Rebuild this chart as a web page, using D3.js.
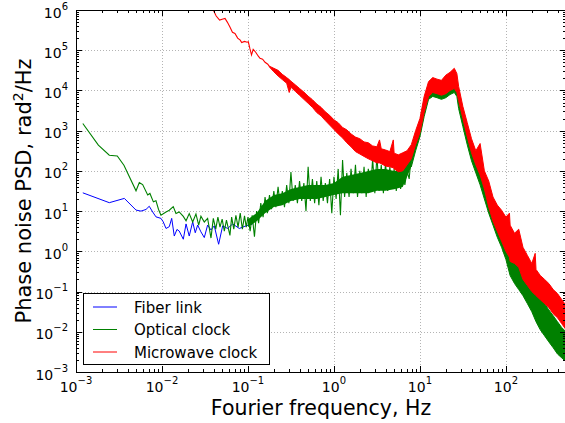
<!DOCTYPE html>
<html><head><meta charset="utf-8">
<script src="https://cdn.jsdelivr.net/npm/d3@7"></script>
<style>body{margin:0;background:#fff}svg{display:block}text{font-family:"DejaVu Sans",sans-serif}</style>
</head><body><svg id="c" width="565" height="423"></svg>
<script>
// ---------- data ----------
const seriesNames = ["Fiber link", "Optical clock", "Microwave clock"];
const seriesColors = ["#0000ff", "#008000", "#ff0000"];

// Fiber link
const fiberFreq = [0.0012,0.00244,0.00365,0.00499,0.0057,0.00652,0.00711,0.0078,0.00851,0.00973,0.01035,0.01114,0.01216,0.01297,0.0139,0.01493,0.01585,0.0177,0.01905,0.02075,0.02275,0.02438,0.026,0.02838,0.03105,0.03396,0.03715,0.04055,0.0456,0.0508,0.058,0.0664,0.0793,0.0948,0.1135];
const fiberPsd  = [28.5,16.2,20.7,10.6,10,11,13.2,9.5,7.2,6.6,5.4,3.7,4.1,6.6,2.4,3.5,3.2,2.0,4.8,2.4,5.4,2.9,4.5,3.05,2.2,4.5,3.4,4.3,1.5,4.3,3.7,4.8,3.7,4.3,4.8];

// Optical clock: resolved trace up to ~8 Hz
const opticalFreq = [0.0012,0.00182,0.00244,0.00302,0.00361,0.00499,0.00545,0.00596,0.00682,0.00724,0.00794,0.00851,0.00912,0.00973,0.01114,0.01216,0.01352,0.01455,0.01585,0.0177,0.01905,0.02075,0.02275,0.02483,0.02673,0.02838,0.03105,0.03396,0.03715,0.03954,0.0422,0.0447,0.0473,0.0501,0.0531,0.0562,0.0617,0.0646,0.0684,0.0724,0.0767,0.0813,0.0861,0.0912,0.0955,
  0.1,0.106,0.112,0.119,0.126,0.133,0.141,0.15,0.158,0.168,0.178,0.188,0.2,0.211,0.224,0.237,0.251,0.266,0.282,0.299,0.316,0.335,0.355,0.376,0.398,0.422,0.447,0.473,0.501,0.531,0.562,0.596,0.631,0.668,0.708,0.75,0.794,0.841,0.891,0.944,
  1.0,1.06,1.12,1.19,1.26,1.33,1.41,1.5,1.58,1.68,1.78,1.88,2.0,2.11,2.24,2.37,2.51,2.66,2.82,2.99,3.16,3.35,3.55,3.76,3.98,4.22,4.47,4.73,5.01,5.31,5.62,5.96,6.31,6.68,7.08,7.5,7.94];
const opticalPsd = [1510,437,245,234,138,32,51,45.7,25.1,27.5,17,18.2,11,7.94,9.55,10.5,12.9,8.7,9.55,7.4,5.75,8.7,5.37,8.5,4.47,7.5,5.37,6.6,2.14,6.6,3.55,7.1,4.0,6.3,3.16,6.0,2.5,7.1,3.55,7.9,4.0,8.9,3.55,7.6,4.0,
  7.1,3.16,7.9,2.3,10,5.0,15.8,7.1,22.4,8.9,25,11.2,31.6,12.6,40,14,31.6,12.6,44.7,15.8,93,17.8,44.7,15.8,56,17.8,50,10,126,17.8,63,15.8,56,14,71,17.8,50,15.8,63,8.9,
  71,20,112,7.9,186,22.4,89,22.4,112,28,141,22.4,100,28,126,22.4,112,31.6,200,28,251,31.6,141,28,158,31.6,126,35.5,112,31.6,100,35.5,100,44.7,100,63,251];
// Optical clock: dense core of the trace, 0.1–8 Hz (lower / upper envelope)
const opticalCoreFreq = [0.1,0.126,0.158,0.2,0.251,0.316,0.398,0.501,0.631,0.794,1,1.26,1.58,2.0,2.51,3.16,3.98,5.01,6.31,7.94];
const opticalCoreLo = [4.0,5.6,8.9,12.6,14,17.8,20,20,20,22.4,25,28,28,28,28,32,32,35,40,126];
const opticalCoreHi = [6.3,8.9,17.8,25,28,35.5,40,44.7,44.7,44.7,50,71,79,89,100,112,112,100,100,282];
// Optical clock: dense band above ~8 Hz
const opticalBandFreq = [7.94,8.91,10,11.2,12.6,14.1,15.8,17.8,20,22.4,25.1,26.9,28.2,31.6,35.5,39.8,44.7,50.1,56.2,63.1,70.8,79.4,89.1,100,112,126,141,158,178,200,224,251,282,316,355,398,447,501];
const opticalBandHi = [316,794,1585,5600,12600,12600,11200,11200,12600,15800,17800,15800,7900,2510,1000,398,200,100,50,25,10,6.3,3.55,2.0,1.26,0.79,0.5,0.316,0.2,0.141,0.1,0.071,0.05,0.035,0.025,0.0178,0.0126,0.01];
const opticalBandLo = [126,316,708,2240,6000,7100,6600,6000,6600,7900,8900,7100,3550,1260,447,178,89,45,20,8.9,4.47,2.24,1.26,0.63,0.25,0.158,0.112,0.079,0.05,0.0316,0.0178,0.0112,0.0079,0.0056,0.004,0.0028,0.00224,0.00178];

// Microwave clock: resolved trace at low frequency (clipped above 1e6)
const microFreq = [0.002,0.005,0.01,0.02,0.03,0.0395,0.0427,0.0468,0.0501,0.0541,0.0575,0.0617,0.066,0.0706,0.0759,0.0813,0.0845,0.0912,0.0977,0.101,0.105,0.11,0.115,0.123,0.132,0.138,0.148,0.158,0.17,0.178];
const microPsd  = [8e6,5e6,3e6,2e6,1.4e6,1.0e6,7.1e5,5.6e5,5.9e5,6.2e5,5.0e5,3.8e5,2.8e5,2.6e5,2.0e5,1.78e5,1.55e5,1.66e5,1.58e5,1.62e5,1.12e5,7.6e4,1.05e5,8.9e4,7.1e4,6.3e4,6.0e4,5.0e4,4.5e4,3.9e4];
// Microwave clock: dense band
const microBandFreq = [0.178,0.2,0.224,0.251,0.282,0.302,0.316,0.355,0.398,0.447,0.501,0.562,0.631,0.708,0.794,0.891,1.0,1.12,1.26,1.41,1.58,1.78,2.0,2.24,2.51,2.82,3.16,3.39,3.55,3.98,4.47,4.9,5.01,5.62,6.31,7.08,7.94,8.91,10,11.2,12.6,14.1,15.8,17.8,20,22.4,25.1,26.9,28.2,31.6,35.5,39.8,44.7,50.1,56.2,63.1,70.8,79.4,89.1,100,110,112,126,141,158,178,200,219,224,251,282,316,355,398,447,501];
const microBandHi = [4.0e4,3.55e4,3.16e4,2.51e4,2.09e4,1.86e4,1.70e4,1.38e4,1.12e4,9.1e3,7.2e3,5.9e3,4.6e3,3.8e3,2.95e3,2.4e3,1.86e3,1.58e3,1.2e3,1.05e3,832,692,631,525,501,417,398,589,355,331,302,589,275,251,282,316,447,1000,2000,7100,1.66e4,2.09e4,1.91e4,1.78e4,2.4e4,2.82e4,3.55e4,2.63e4,1.26e4,3.98e3,1.58e3,631,316,479,100,56,22.4,14.1,10.5,7.1,8.9,4.47,2.82,3.55,1.26,0.79,0.5,0.89,0.355,0.251,0.2,0.158,0.112,0.089,0.063,0.0447];
const microBandLo = [3.8e4,2.9e4,2.29e4,1.86e4,1.51e4,8.9e3,1.2e4,9.5e3,7.6e3,6.0e3,4.8e3,3.8e3,2.82e3,2.34e3,1.78e3,1.38e3,1.07e3,832,661,501,398,302,263,229,200,178,158,158,151,132,126,120,112,95,100,141,200,447,891,2820,7100,8900,8300,7600,8300,1.0e4,1.12e4,8900,5600,2000,708,282,141,79,35.5,12.6,5.6,3.16,1.78,1.0,0.71,0.56,0.5,0.4,0.2,0.141,0.1,0.083,0.079,0.063,0.05,0.04,0.028,0.0224,0.0158,0.0112];

const xMajorExp = [-3,-2,-1,0,1,2];
const yMajorExp = [-3,-2,-1,0,1,2,3,4,5,6];

// ---------- chart ----------
const svg = d3.select("#c");
const L = 76, R = 566, T = 10, B = 372;
const x = d3.scaleLog().domain([1e-3, 500]).range([L, R]);
const y = d3.scaleLog().domain([1e-3, 1e6]).range([B, T]);
const sup = e => (e < 0 ? "\u2212" + (-e) : String(e));

svg.append("defs").append("clipPath").attr("id","clip")
  .append("rect").attr("x",L).attr("y",T).attr("width",R-L).attr("height",B-T);

// grid
const grid = svg.append("g").attr("stroke","#b4b4b4").attr("stroke-dasharray","1,2").attr("stroke-width",1);
xMajorExp.forEach(e => { const px = Math.round(x(Math.pow(10,e)))+0.5;
  grid.append("line").attr("x1",px).attr("x2",px).attr("y1",T).attr("y2",B); });
yMajorExp.forEach(e => { const py = Math.round(y(Math.pow(10,e)))+0.5;
  grid.append("line").attr("x1",L).attr("x2",R).attr("y1",py).attr("y2",py); });

const plot = svg.append("g").attr("clip-path","url(#clip)");
const line = d3.line().x(d => x(d[0])).y(d => y(d[1]));
const area = d3.area().x(d => x(d[0])).y0(d => y(d[1])).y1(d => y(d[2]));

plot.append("path").attr("d", line(d3.zip(fiberFreq, fiberPsd)))
  .attr("fill","none").attr("stroke",seriesColors[0]).attr("stroke-width",1);
plot.append("path").attr("d", area(d3.zip(opticalCoreFreq, opticalCoreLo, opticalCoreHi)))
  .attr("fill",seriesColors[1]).attr("stroke","none");
plot.append("path").attr("d", line(d3.zip(opticalFreq, opticalPsd)))
  .attr("fill","none").attr("stroke",seriesColors[1]).attr("stroke-width",1.1);
plot.append("path").attr("d", area(d3.zip(opticalBandFreq, opticalBandLo, opticalBandHi)))
  .attr("fill",seriesColors[1]).attr("stroke",seriesColors[1]).attr("stroke-width",1);
plot.append("path").attr("d", line(d3.zip(microFreq, microPsd)))
  .attr("fill","none").attr("stroke",seriesColors[2]).attr("stroke-width",1.1);
plot.append("path").attr("d", area(d3.zip(microBandFreq, microBandLo, microBandHi)))
  .attr("fill",seriesColors[2]).attr("stroke",seriesColors[2]).attr("stroke-width",1);

// ticks
const tk = svg.append("g").attr("stroke","#000").attr("stroke-width",1);
x.ticks().forEach(v => {
  const major = Math.abs(Math.log10(v) - Math.round(Math.log10(v))) < 1e-9;
  const len = major ? 6 : 3, px = Math.round(x(v))+0.5;
  tk.append("line").attr("x1",px).attr("x2",px).attr("y1",B).attr("y2",B-len);
  tk.append("line").attr("x1",px).attr("x2",px).attr("y1",T).attr("y2",T+len);
});
y.ticks().forEach(v => {
  const major = Math.abs(Math.log10(v) - Math.round(Math.log10(v))) < 1e-9;
  const len = major ? 6 : 3, py = Math.round(y(v))+0.5;
  tk.append("line").attr("x1",L).attr("x2",L+len).attr("y1",py).attr("y2",py);
  tk.append("line").attr("x1",R).attr("x2",R-len).attr("y1",py).attr("y2",py);
});
svg.append("rect").attr("x",L+0.5).attr("y",T+0.5).attr("width",R-L-1).attr("height",B-T)
  .attr("fill","none").attr("stroke","#000").attr("stroke-width",1);

// tick labels
xMajorExp.forEach(e => {
  const t = svg.append("text").attr("x", x(Math.pow(10,e))).attr("y", B+20)
    .attr("text-anchor","middle").attr("font-size",14).attr("fill","#000");
  t.append("tspan").text("10");
  t.append("tspan").attr("dy",-8).attr("font-size",10).text(sup(e));
});
yMajorExp.forEach(e => {
  const t = svg.append("text").attr("x", 68).attr("y", y(Math.pow(10,e))+7.5)
    .attr("text-anchor","end").attr("font-size",14).attr("fill","#000");
  t.append("tspan").text("10");
  t.append("tspan").attr("dy",-8).attr("font-size",10).text(sup(e));
});

// axis labels
svg.append("text").attr("x",(L+R)/2).attr("y",415).attr("text-anchor","middle")
  .attr("font-size",20.5).text("Fourier frequency, Hz");
const yl = svg.append("text").attr("transform","translate(31,"+((T+B)/2)+") rotate(-90)")
  .attr("text-anchor","middle").attr("font-size",21);
yl.append("tspan").text("Phase noise PSD, rad");
yl.append("tspan").attr("dy",-8).attr("font-size",14).text("2");
yl.append("tspan").attr("dy",8).text("/Hz");

// legend
const lg = svg.append("g");
lg.append("rect").attr("x",83.5).attr("y",293.5).attr("width",186).attr("height",71)
  .attr("fill","#fff").attr("stroke","#000").attr("stroke-width",1);
seriesNames.forEach((n,i) => {
  const yy = 307 + i*22.5;
  lg.append("line").attr("x1",93).attr("x2",117).attr("y1",yy).attr("y2",yy)
    .attr("stroke",seriesColors[i]).attr("stroke-width",1);
  lg.append("text").attr("x",134).attr("y",yy+5.5).attr("font-size",15).text(n);
});
</script></body></html>
